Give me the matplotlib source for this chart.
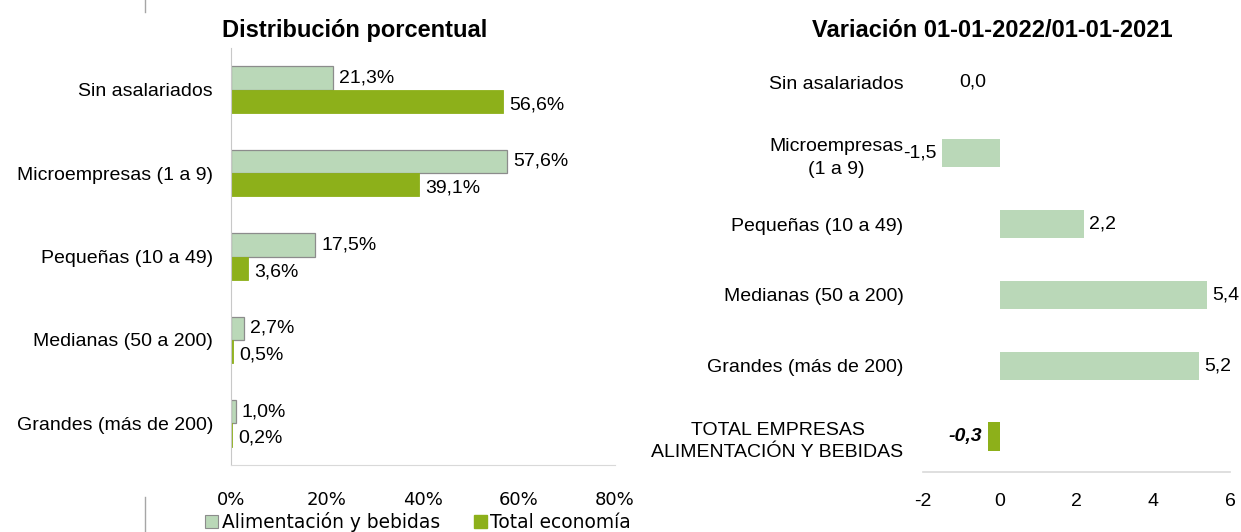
import matplotlib.pyplot as plt
from matplotlib.patches import Patch
from matplotlib.lines import Line2D

# Data
categories = ["Sin asalariados", "Microempresas (1 a 9)", "Pequeñas (10 a 49)",
              "Medianas (50 a 200)", "Grandes (más de 200)"]
alimentacion = [21.3, 57.6, 17.5, 2.7, 1.0]
total_economia = [56.6, 39.1, 3.6, 0.5, 0.2]

var_categories = ["Sin asalariados", "Microempresas\n(1 a 9)", "Pequeñas (10 a 49)",
                  "Medianas (50 a 200)", "Grandes (más de 200)",
                  "TOTAL EMPRESAS\nALIMENTACIÓN Y BEBIDAS"]
variacion = [0.0, -1.5, 2.2, 5.4, 5.2, -0.3]

light = "#bad8b8"
dark = "#8db01a"
txt_font = "Liberation Sans"
tick_font = "DejaVu Sans"
fs = 14

fig = plt.figure(figsize=(12.41, 5.32), dpi=100)

# Left chart: distribucion porcentual
ax1 = fig.add_axes([0.1861, 0.1259, 0.3094, 0.7838])
n = len(categories)
pos = list(range(n))
h = 0.28
ax1.barh([p - h / 2 for p in pos], alimentacion, height=h, color=light,
         edgecolor="#8c8c8c", linewidth=0.9)
ax1.barh([p + h / 2 for p in pos], total_economia, height=h, color=dark,
         edgecolor=dark, linewidth=0.6)
for p, a, t in zip(pos, alimentacion, total_economia):
    ax1.text(a + 1.3, p - h / 2, f"{a:.1f}%".replace(".", ","), va="center",
             ha="left", fontsize=fs, family=txt_font)
    ax1.text(t + 1.3, p + h / 2 + 0.04, f"{t:.1f}%".replace(".", ","), va="center",
             ha="left", fontsize=fs, family=txt_font)
ax1.set_ylim(n - 0.5, -0.5)
ax1.set_xlim(0, 80)
ax1.set_yticks(pos)
ax1.set_yticklabels(categories, fontsize=fs, family=txt_font)
ax1.set_xticks([0, 20, 40, 60, 80])
ax1.set_xticklabels(["0%", "20%", "40%", "60%", "80%"], fontsize=13, family=tick_font)
ax1.tick_params(axis="y", length=0, pad=13)
ax1.tick_params(axis="x", length=0, pad=19)
for s in ["top", "right"]:
    ax1.spines[s].set_visible(False)
ax1.spines["left"].set_color("#c8c8c8")
ax1.spines["bottom"].set_color("#d9d9d9")

fig.text(0.286, 0.943, "Distribución porcentual", ha="center", va="center",
         fontsize=17, fontweight="bold", family=txt_font)

fig.legend(handles=[Patch(facecolor=light, edgecolor="#8c8c8c", linewidth=0.8),
                    Patch(facecolor=dark, edgecolor=dark)],
           labels=["Alimentación y bebidas", "Total economía"],
           loc="center", bbox_to_anchor=(0.337, 0.019), ncol=2, frameon=False,
           prop={"family": tick_font, "size": 13.4}, handlelength=0.7,
           handleheight=0.7, handletextpad=0.2, columnspacing=1.8)

# Right chart: variacion
ax2 = fig.add_axes([0.7438, 0.1128, 0.2474, 0.799])
m = len(var_categories)
vpos = list(range(m))
colors = [light] * (m - 1) + [dark]
ax2.barh(vpos, variacion, height=0.4, color=colors)
for p, v in zip(vpos, variacion):
    lab = f"{v:.1f}".replace(".", ",")
    last = p == m - 1
    if v > 0:
        ax2.text(v + 0.13, p, lab, va="center", ha="left", fontsize=fs, family=txt_font)
    else:
        off = 0.35 if v == 0 else 0.15
        ax2.text(v - off, p, lab, va="center", ha="right", fontsize=fs,
                 family=txt_font, fontweight="bold" if last else "normal",
                 style="italic" if last else "normal")
ax2.set_ylim(m - 0.5, -0.5)
ax2.set_xlim(-2, 6)
ax2.set_yticks(vpos)
ax2.set_yticklabels(var_categories, fontsize=fs, family=txt_font)
for lbl in ax2.get_yticklabels():
    lbl.set_multialignment("center")
    lbl.set_linespacing(1.45)
ax2.set_xticks([-2, 0, 2, 4, 6])
ax2.set_xticklabels(["-2", "0", "2", "4", "6"], fontsize=fs, family=txt_font)
ax2.tick_params(axis="y", length=0, pad=14)
ax2.tick_params(axis="x", length=0, pad=15)
for s in ["top", "right", "left"]:
    ax2.spines[s].set_visible(False)
ax2.spines["bottom"].set_color("#d9d9d9")
ax2.spines["bottom"].set_linewidth(1.2)

fig.text(0.800, 0.943, "Variación 01-01-2022/01-01-2021", ha="center", va="center",
         fontsize=17, fontweight="bold", family=txt_font)

# small separator marks
fig.add_artist(Line2D([0.117, 0.117], [0.977, 1.0], color="#a6a6a6", lw=1))
fig.add_artist(Line2D([0.117, 0.117], [0.0, 0.066], color="#a6a6a6", lw=1))

fig.savefig("out.png", dpi=100)
